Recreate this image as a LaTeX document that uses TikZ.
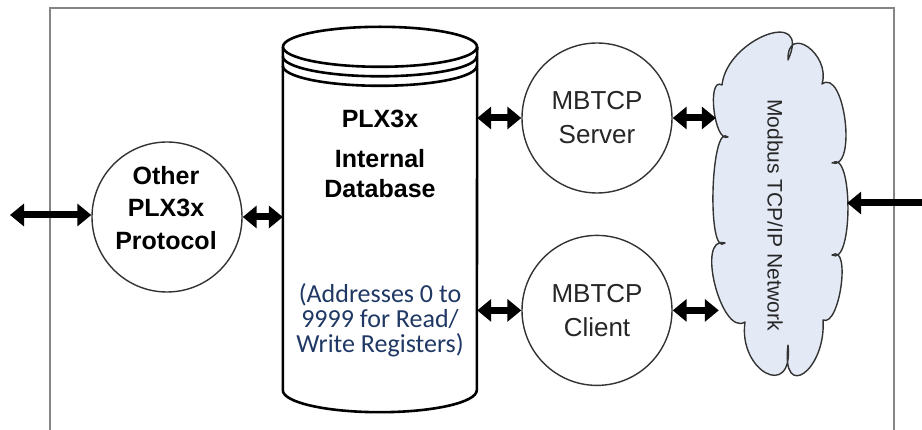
\documentclass[tikz,border=0pt]{standalone}
\usepackage{fontspec}
\setmainfont{Liberation Sans}
\newfontfamily\calibri{Carlito}
\usetikzlibrary{arrows.meta,positioning,shapes.geometric}
\definecolor{cloudfill}{HTML}{E3EAF6}
\definecolor{addrblue}{HTML}{1F3864}
\definecolor{framegray}{HTML}{858585}
\definecolor{edgegray}{HTML}{333333}

\begin{document}
\begin{tikzpicture}[
  x=1pt,y=-1pt,
  proto/.style={circle,draw=edgegray,line width=1.4pt,fill=white,minimum size=150pt,inner sep=0pt,align=center,text=black!85,font=\fontsize{26}{34}\selectfont},
  boldtext/.style={inner sep=0pt,align=center,font=\bfseries\fontsize{25}{32.5}\selectfont},
  addr/.style={inner sep=0pt,align=center,text=addrblue,font=\calibri\fontsize{26}{25}\selectfont},
  netlabel/.style={rotate=-90,minimum width=338pt,minimum height=134pt,inner sep=0pt,text=black!85,font=\fontsize{21}{25}\selectfont},
  cloudline/.style={draw=edgegray,line width=1.4pt,fill=cloudfill,line join=round},
  dbline/.style={line width=2.6pt,line join=round},
  link/.style={{Triangle[length=14pt,width=22pt]}-{Triangle[length=14pt,width=22pt]},line width=7pt},
  frame/.style={draw=framegray,line width=2pt}
]
\useasboundingbox (0,0) rectangle (922,430);
% outer frame, open at the bottom
\draw[frame] (50,430) -- (50,8) -- (894,8) -- (894,430);

% database cylinder
\node[minimum width=194pt,minimum height=343pt,inner sep=0pt] (db) at (380,218.5) {};
\draw[dbline,fill=white] (db.north west) -- (db.south west)
  arc[start angle=180,end angle=360,x radius=97pt,y radius=22pt] -- (db.north east);
\draw[dbline,fill=white] (db.north) ellipse[x radius=97pt,y radius=20pt];
\foreach \d in {9.5,19}
  \draw[dbline] ([yshift=-\d pt]db.north west) arc[start angle=180,end angle=360,x radius=97pt,y radius=20pt];
\node[boldtext,font=\bfseries\fontsize{25}{30}\selectfont] (dbname) at (380,154) {PLX3x\\[10pt]Internal\\Database};
\node[addr] (dbaddr) at (380,320) {(Addresses 0 to\\9999 for Read/\\Write Registers)};

% protocols
\node[proto] (oth) at (167,217) {};
\node[boldtext] (othname) at (166,208) {Other\\PLX3x\\Protocol};
\node[proto] (srv) at (597,118) {MBTCP\\Server};
\node[proto,below=41pt of srv] (cli) {MBTCP\\Client};

% network cloud, one lobe per curve
\draw[cloudline] (722,85)
  .. controls (726.8,38.8) and (812.6,6.3) .. (788,60)
  .. controls (786.9,23.1) and (831.1,54.3) .. (822,84)
  .. controls (844.5,67.5) and (857.5,170.2) .. (832,163)
  .. controls (853.3,147.9) and (853.3,267.5) .. (832,255)
  .. controls (851.4,243.3) and (839.7,327.8) .. (823,320)
  .. controls (826.3,370.3) and (780.8,402.8) .. (788,345)
  .. controls (793.8,401.1) and (737.9,371.2) .. (745,322)
  .. controls (721.3,337.2) and (695.3,234.5) .. (725,243)
  .. controls (706.6,258.9) and (710.5,121.1) .. (728,137)
  .. controls (714.2,143.5) and (706.4,75.9) .. (722,85) -- cycle;
\node[netlabel] (net) at (780,204) {\hspace*{22pt}\raisebox{-5pt}[15pt][0pt]{Modbus TCP/IP Network}};

% connections
\coordinate (ext) at (10,215);
\coordinate (lan) at (922,203);
\draw[link] (ext) -- (ext -| oth.west);
\draw[link] (oth.east) -- (oth.east -| db.west);
\draw[link] (srv.west -| db.east) -- (srv.west);
\draw[link] (srv.east) -- ([xshift=3pt]srv.east -| net.south);
\draw[link] (cli.west -| db.east) -- (cli.west);
\draw[link] (cli.east) -- ([xshift=6pt]cli.east -| net.south);
\draw[{Triangle[length=14pt,width=22pt]}-,line width=7pt] (lan -| net.north) -- (lan);
\end{tikzpicture}
\end{document}
